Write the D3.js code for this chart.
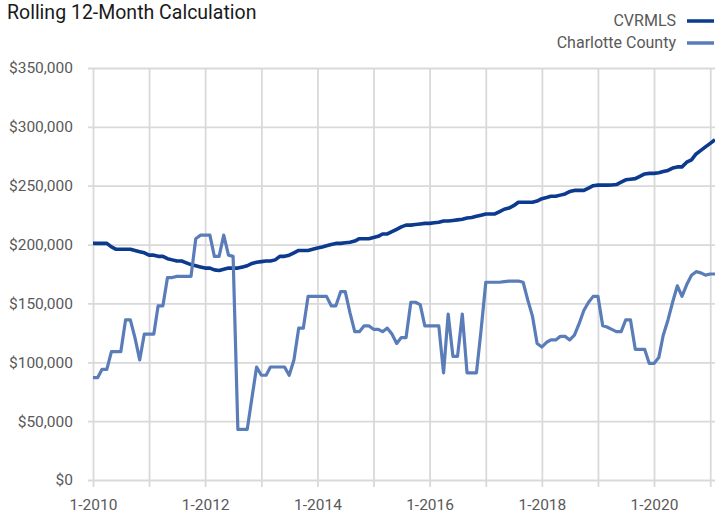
<!DOCTYPE html>
<html>
<head>
<meta charset="utf-8">
<script src="https://cdn.jsdelivr.net/npm/d3@7"></script>
<style>
  body { margin: 0; background: #fff; }
  svg { display: block; font-family: Roboto, "Liberation Sans", sans-serif; }
</style>
</head>
<body>
<div id="chart"></div>
<script>
// monthly points, 1-2010 .. 2-2021
var months = d3.timeMonth.range(new Date(2010, 0, 1), new Date(2021, 2, 1));

// rolling 12-month values, in $ thousands
var cvrmls = [
  201, 201, 201, 201, 198, 196, 196, 196, 196, 195, 194, 193,
  191, 191, 190, 190, 188, 187, 186, 186, 184.5, 183, 182, 181,
  180, 180, 178.5, 178, 179, 180, 180, 180, 181, 182, 184, 185,
  185.5, 186, 186, 187, 190, 190, 191, 193, 195, 195, 195, 196,
  197, 198, 199, 200, 201, 201, 201.5, 202, 203, 205, 205, 205,
  206, 207, 209, 209, 211, 213, 215, 216.5, 216.5, 217, 217.5, 218,
  218, 218.5, 219, 220, 220, 220.5, 221, 221.5, 222.5, 223, 224, 225,
  226, 226, 226, 228, 230, 231, 233, 236, 236, 236, 236, 237,
  239, 240, 241, 241, 242, 243, 245, 246, 246, 246, 248, 250,
  250.5, 250.5, 250.5, 250.6, 251, 253, 255, 255.5, 256, 258, 260, 260.5,
  260.5, 261, 262, 263, 265, 266, 266, 270, 272, 277, 280, 283,
  286, 289
];
var charlotte = [
  87, 87, 94, 94, 109, 109, 109, 136, 136, 121, 102, 124,
  124, 124, 148, 148, 172, 172, 173, 173, 173, 173, 205, 208,
  208, 208, 190, 190, 208, 191, 190, 43, 43, 43, 70, 96,
  89, 89, 96, 96, 96, 96, 89, 102, 129, 129, 156, 156,
  156, 156, 156, 148, 148, 160, 160, 142, 126, 126, 131, 131,
  128, 128, 126, 129, 124, 116, 121, 121, 151, 151, 149, 131,
  131, 131, 131, 91, 141, 105, 105, 141, 91, 91, 91, 127,
  168, 168, 168, 168, 168.5, 169, 169, 169, 168, 153, 139, 116,
  113, 117, 119, 119, 122, 122, 119, 123, 133, 144, 151, 156,
  156, 131, 130, 128, 126, 126, 136, 136, 111, 111, 111, 99,
  99, 104, 123, 136, 151, 165, 156, 166, 174, 177, 176, 174,
  175, 175
];

var seriesNames = ["CVRMLS", "Charlotte County"];
var seriesColors = ["#0b3a8e", "#5a7cb9"];
var yTicks = [0, 50, 100, 150, 200, 250, 300, 350];
var gridYears = d3.range(2010, 2022);

var width = 715, height = 515;
var gridLeft = 88, plotLeft = 93, plotRight = 715, plotTop = 68, plotBottom = 480;

var svg = d3.select("#chart").append("svg")
  .attr("width", width)
  .attr("height", height);

var x = d3.scaleTime()
  .domain([months[0], months[months.length - 1]])
  .range([plotLeft, plotRight]);

var y = d3.scaleLinear()
  .domain([0, 350])
  .range([plotBottom, plotTop]);

// horizontal grid + dollar labels
var yAxis = svg.append("g")
  .attr("transform", "translate(" + gridLeft + ",0)")
  .call(d3.axisLeft(y)
    .tickValues(yTicks)
    .tickSize(-(plotRight - gridLeft))
    .tickPadding(15)
    .tickFormat(function(d) { return "$" + d3.format(",")(d * 1000); }));
yAxis.select(".domain").remove();
yAxis.selectAll("line").attr("stroke", "#d9d9d9").attr("stroke-width", 1.8);
yAxis.selectAll("text")
  .attr("fill", "#595959")
  .style("font-size", "15.5px")
  .style("font-family", "Roboto, sans-serif");

// vertical grid at each January, labels every other year
var xAxis = svg.append("g")
  .attr("transform", "translate(0," + (plotBottom + 7) + ")")
  .call(d3.axisBottom(x)
    .tickValues(gridYears.map(function(yr) { return new Date(yr, 0, 1); }))
    .tickSize(-(plotBottom + 7 - plotTop))
    .tickPadding(12)
    .tickFormat(function(d) {
      return d.getFullYear() % 2 === 0 && d.getFullYear() < 2021 ? "1-" + d.getFullYear() : "";
    }));
xAxis.select(".domain").remove();
xAxis.selectAll("line").attr("stroke", "#d9d9d9").attr("stroke-width", 1.8);
xAxis.selectAll("text")
  .attr("fill", "#595959")
  .style("font-size", "15.5px")
  .style("font-family", "Roboto, sans-serif");

var line = d3.line()
  .x(function(d, i) { return x(months[i]); })
  .y(function(d) { return y(d); })
  .curve(d3.curveLinear);

svg.append("path")
  .datum(cvrmls)
  .attr("d", line)
  .attr("fill", "none")
  .attr("stroke", seriesColors[0])
  .attr("stroke-width", 3.6)
  .attr("stroke-linejoin", "round");

svg.append("path")
  .datum(charlotte)
  .attr("d", line)
  .attr("fill", "none")
  .attr("stroke", seriesColors[1])
  .attr("stroke-width", 3.2)
  .attr("stroke-linejoin", "round");

// title
svg.append("text")
  .attr("x", 7)
  .attr("y", 18.5)
  .attr("fill", "#1a1a1a")
  .style("font-size", "19.5px")
  .text("Rolling 12-Month Calculation");

// legend
var legend = svg.selectAll(".legend")
  .data(seriesNames)
  .enter().append("g")
  .attr("class", "legend")
  .attr("transform", function(d, i) { return "translate(0," + (21 + i * 22) + ")"; });

legend.append("line")
  .attr("x1", 687).attr("x2", 714)
  .attr("y1", 0).attr("y2", 0)
  .attr("stroke", function(d, i) { return seriesColors[i]; })
  .attr("stroke-width", 3.5);

legend.append("text")
  .attr("x", 676)
  .attr("y", 5)
  .attr("text-anchor", "end")
  .attr("fill", "#595959")
  .style("font-size", "16px")
  .text(function(d) { return d; });
</script>
</body>
</html>
